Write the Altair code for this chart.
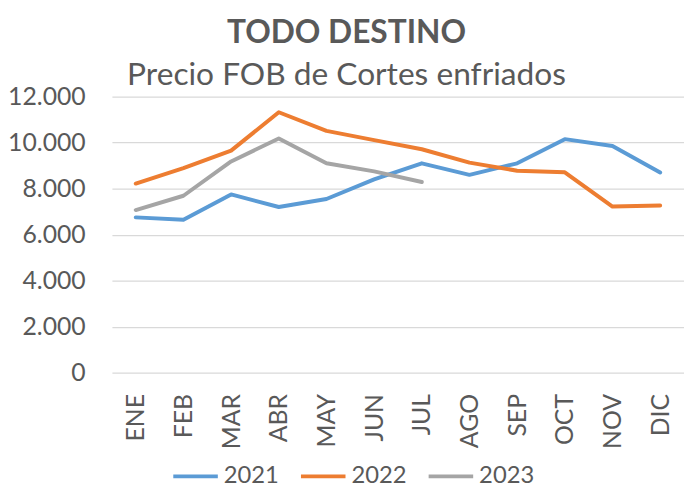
import altair as alt
import pandas as pd

months = ["ENE", "FEB", "MAR", "ABR", "MAY", "JUN", "JUL", "AGO", "SEP", "OCT", "NOV", "DIC"]
v2021 = [6750, 6650, 7750, 7200, 7550, 8400, 9100, 8600, 9100, 10150, 9850, 8700]
v2022 = [8220, 8890, 9650, 11320, 10510, 10110, 9710, 9130, 8780, 8710, 7220, 7270]
v2023 = [7070, 7690, 9180, 10180, 9100, 8750, 8290, None, None, None, None, None]
years = ["2021", "2022", "2023"]
colors = ["#5B9BD5", "#ED7D31", "#A5A5A5"]
y_ticks = [0, 2000, 4000, 6000, 8000, 10000, 12000]

rows = []
for yr, vals in zip(years, [v2021, v2022, v2023]):
    for m, v in zip(months, vals):
        if v is not None:
            rows.append({"mes": m, "anio": yr, "valor": v})
df = pd.DataFrame(rows)

FONT = "Lato"
TXT = "#595959"

chart = alt.Chart(df).mark_line(strokeWidth=4, strokeJoin="round", strokeCap="round").encode(
    x=alt.X("mes:O", sort=months, title=None,
            axis=alt.Axis(labelAngle=270, labelFontSize=25, labelColor=TXT, labelFont=FONT,
                          ticks=False, tickSize=0, domain=False, grid=False, labelPadding=21)),
    y=alt.Y("valor:Q", title=None,
            scale=alt.Scale(domain=[0, 12000], nice=False),
            axis=alt.Axis(values=y_ticks, labelExpr="replace(format(datum.value, ','), ',', '.')",
                          labelFontSize=25, labelColor=TXT, labelFont=FONT,
                          ticks=False, tickSize=0, domain=False, labelPadding=27,
                          gridColor="#D9D9D9", gridWidth=1.3)),
    color=alt.Color("anio:N", scale=alt.Scale(domain=years, range=colors),
                    legend=alt.Legend(title=None, orient="none", direction="horizontal",
                                      legendX=60, legendY=359, symbolType="stroke",
                                      symbolSize=2025, symbolStrokeWidth=4,
                                      labelFontSize=24, labelColor=TXT, labelFont=FONT,
                                      columnPadding=14, labelOffset=4, padding=0)),
).properties(
    width=578,
    height=279,
    autosize=alt.AutoSizeParams(type="none"),
    padding={"left": 105, "top": 87, "right": 0, "bottom": 116},
    title=alt.Title("TODO DESTINO", subtitle="Precio FOB de Cortes enfriados",
                    font=FONT, fontSize=32, fontWeight="bold", color=TXT,
                    subtitleFont=FONT, subtitleFontSize=32, subtitleColor=TXT,
                    anchor="middle", frame="group", dx=-52, dy=17, offset=10, subtitlePadding=10),
).configure_view(stroke=None)

chart.save("out.html", embed_options={"renderer": "svg", "actions": False})
